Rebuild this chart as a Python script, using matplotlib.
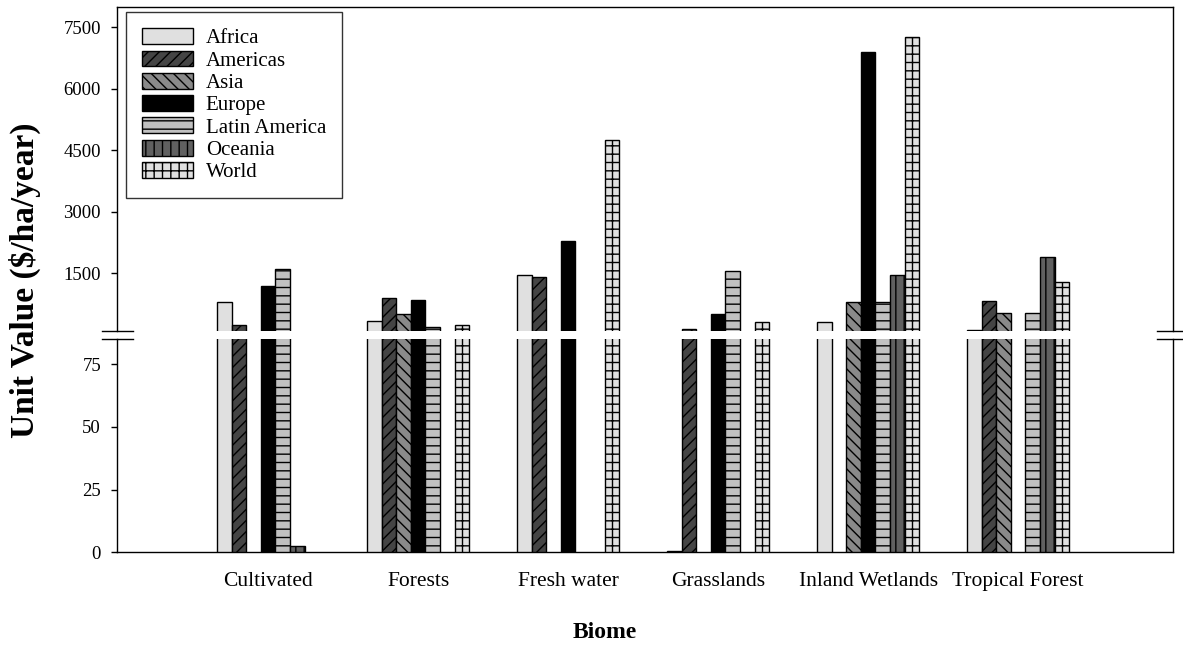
import numpy as np
import matplotlib
matplotlib.use("Agg")
import matplotlib.pyplot as plt
from matplotlib.lines import Line2D

plt.rcParams['font.family'] = ['Liberation Serif', 'DejaVu Serif']
plt.rcParams['hatch.linewidth'] = 1.0

biomes = ["Cultivated", "Forests", "Fresh water", "Grasslands",
          "Inland Wetlands", "Tropical Forest"]
regions = ["Africa", "Americas", "Asia", "Europe", "Latin America",
           "Oceania", "World"]

# Unit values ($/ha/year) per region, one entry per biome (0 = no data)
africa = [790, 330, 1450, 0.5, 320, 115]
americas = [250, 890, 1410, 140, 0, 820]
asia = [0, 500, 0, 0, 800, 540]
europe = [1200, 840, 2280, 500, 6890, 0]
latin_america = [1600, 180, 0, 1560, 790, 520]
oceania = [2.5, 0, 0, 0, 1450, 1890]
world = [0, 230, 4740, 300, 7250, 1290]

series = [africa, americas, asia, europe, latin_america, oceania, world]

styles = [
    dict(facecolor="#e0e0e0", hatch=None),
    dict(facecolor="#454545", hatch="///"),
    dict(facecolor="#8a8a8a", hatch="\\\\\\"),
    dict(facecolor="#000000", hatch=None),
    dict(facecolor="#c0c0c0", hatch="--"),
    dict(facecolor="#606060", hatch="||"),
    dict(facecolor="#e0e0e0", hatch="++"),
]

W, H = 1183, 648
fig = plt.figure(figsize=(W / 100, H / 100), dpi=100)

left, right = 116.7 / W, 1173.3 / W
lo_bot, lo_top = 1 - 552.3 / H, 1 - 339.0 / H
up_bot, up_top = 1 - 330.7 / H, 1 - 6.7 / H

ax_lo = fig.add_axes([left, lo_bot, right - left, lo_top - lo_bot])
ax_up = fig.add_axes([left, up_bot, right - left, up_top - up_bot])

x = np.arange(len(biomes))
width = 0.0975

handles = []
for k, (name, vals, st) in enumerate(zip(regions, series, styles)):
    vals = np.asarray(vals, dtype=float)
    mask = vals > 0
    xs = x[mask] + (k - 3) * width
    for ax in (ax_lo, ax_up):
        ax.bar(xs, vals[mask], width=width, facecolor=st["facecolor"],
               hatch=st["hatch"], edgecolor="black", linewidth=1.0,
               align="center", zorder=3)
    handles.append(plt.Rectangle((0, 0), 1, 1, facecolor=st["facecolor"],
                                 hatch=st["hatch"], edgecolor="black",
                                 linewidth=1.0, label=name))

for ax in (ax_lo, ax_up):
    ax.set_xlim(-1.01, 6.035)
    for s in ax.spines.values():
        s.set_linewidth(1.0)
    ax.tick_params(axis="y", direction="out", length=4.3, width=1.0,
                   labelsize=13.5, pad=7)

ax_lo.set_ylim(0, 85)
ax_lo.set_yticks([0, 25, 50, 75])
ax_lo.spines["top"].set_visible(False)
ax_lo.set_xticks(x)
ax_lo.set_xticklabels(biomes, fontsize=15.5)
ax_lo.tick_params(axis="x", length=0, pad=14.5)

ax_up.set_ylim(100, 8000)
ax_up.set_yticks([1500, 3000, 4500, 6000, 7500])
ax_up.spines["bottom"].set_visible(False)
ax_up.set_xticks([])

# break marks on both vertical axes
for y in (330.7, 339.0):
    yf = 1 - y / H
    fig.add_artist(Line2D([102 / W, 133 / W], [yf, yf], color="black",
                          linewidth=1.0, transform=fig.transFigure))
    fig.add_artist(Line2D([1157 / W, 1.0], [yf, yf], color="black",
                          linewidth=1.0, transform=fig.transFigure))

fig.text(25 / W, 1 - 280 / H, "Unit Value ($/ha/year)", rotation=90,
         ha="center", va="center", fontsize=24, fontweight="bold")
fig.text(605 / W, 1 - 632 / H, "Biome", ha="center",
         va="center", fontsize=17, fontweight="bold")

leg = ax_up.legend(handles=handles, loc="upper left",
                   bbox_to_anchor=(126 / W, 1 - 12 / H),
                   bbox_transform=fig.transFigure, fontsize=15,
                   frameon=True, fancybox=False, handlelength=2.45,
                   handleheight=0.8, labelspacing=0.1, handletextpad=0.6,
                   borderpad=0.78, borderaxespad=0)
leg.get_frame().set_edgecolor("black")
leg.get_frame().set_linewidth(1.0)

fig.savefig("out.png", dpi=100)
